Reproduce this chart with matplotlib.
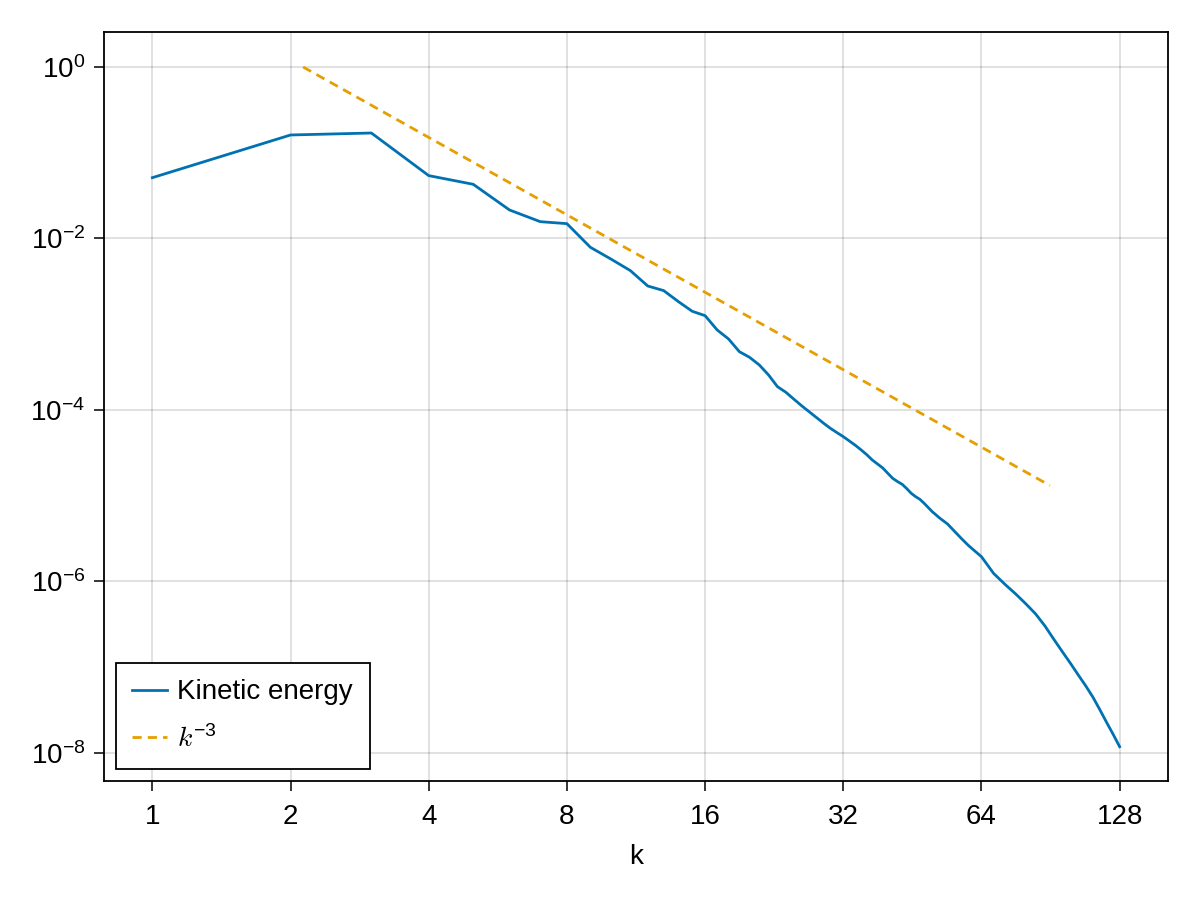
import numpy as np
import matplotlib
matplotlib.use("Agg")
import matplotlib.pyplot as plt
from matplotlib.ticker import FixedLocator, FixedFormatter, NullLocator

plt.rcParams['font.family'] = ['Liberation Sans', 'DejaVu Sans']
plt.rcParams['mathtext.fontset'] = 'custom'
plt.rcParams['mathtext.rm'] = 'Liberation Sans'
plt.rcParams['mathtext.it'] = 'Liberation Sans:italic'
plt.rcParams['mathtext.default'] = 'regular'

# ---- data ----
k = [1, 2, 3, 4, 5, 6, 7, 8, 9, 10, 11, 12, 13, 14, 15, 16, 17, 18, 19, 20,
     21, 22, 23, 24, 25, 26, 27, 28, 29, 30, 31, 32, 33, 34, 35, 36, 37, 38,
     39, 40, 41, 42, 43, 44, 45, 46, 47, 48, 50, 52, 54, 56, 58, 60, 62, 64,
     68, 72, 76, 80, 84, 88, 92, 96, 100, 104, 108, 112, 116, 120, 124, 128]
log10_energy = [-1.291, -0.793, -0.770, -1.267, -1.368, -1.668, -1.804, -1.827,
                -2.103, -2.243, -2.375, -2.554, -2.608, -2.737, -2.849, -2.900,
                -3.067, -3.172, -3.320, -3.386, -3.475, -3.592, -3.728, -3.794,
                -3.876, -3.953, -4.023, -4.090, -4.155, -4.214, -4.264, -4.311,
                -4.362, -4.412, -4.466, -4.521, -4.583, -4.630, -4.676, -4.738,
                -4.797, -4.835, -4.867, -4.917, -4.972, -5.011, -5.042, -5.088,
                -5.186, -5.264, -5.330, -5.419, -5.504, -5.582, -5.648, -5.711,
                -5.905, -6.033, -6.146, -6.262, -6.379, -6.519, -6.674, -6.818,
                -6.954, -7.090, -7.218, -7.351, -7.499, -7.647, -7.786, -7.927]
energy = [10 ** v for v in log10_energy]

k_ref = [2.13, 90.2]          # extent of the k^-3 reference line
ref_amplitude = 9.66          # E = A * k^-3

x_ticks = [1, 2, 4, 8, 16, 32, 64, 128]
x_ticklabels = ['1', '2', '4', '8', '16', '32', '64', '128']
y_ticks = [1e0, 1e-2, 1e-4, 1e-6, 1e-8]
y_ticklabels = ['$10^{0}$', '$10^{−2}$', '$10^{−4}$', '$10^{−6}$', '$10^{−8}$']

blue = '#0072B2'
orange = '#E69F00'

fig = plt.figure(figsize=(12, 9), dpi=100)
ax = fig.add_axes([104 / 1200, 1 - 781 / 900, (1168 - 104) / 1200, (781 - 32) / 900])

ax.plot(k, energy, color=blue, lw=2.0, label='Kinetic energy', solid_joinstyle='round')
kr = np.array(k_ref)
ax.plot(kr, ref_amplitude * kr ** -3.0, color=orange, lw=2.0,
        linestyle=(0, (3.3, 2.2)), label=r'$\mathit{k}^{-3}$')

ax.set_xscale('log', base=2)
ax.set_yscale('log')
ax.set_xlim(2 ** -0.35, 2 ** 7.35)
ax.set_ylim(10 ** -8.327, 10 ** 0.408)

ax.xaxis.set_major_locator(FixedLocator(x_ticks))
ax.xaxis.set_major_formatter(FixedFormatter(x_ticklabels))
ax.xaxis.set_minor_locator(NullLocator())
ax.yaxis.set_major_locator(FixedLocator(y_ticks))
ax.yaxis.set_major_formatter(FixedFormatter(y_ticklabels))
ax.yaxis.set_minor_locator(NullLocator())

ax.tick_params(axis='both', which='major', direction='out', length=7.5, width=1.1,
               labelsize=20, color='black')
ax.tick_params(axis='x', pad=9)
ax.tick_params(axis='y', pad=6)
ax.grid(True, which='major', color='black', alpha=0.12, lw=1.4)
ax.set_axisbelow(True)
for s in ax.spines.values():
    s.set_linewidth(1.3)
    s.set_color('black')

ax.set_xlabel('k', fontsize=20, labelpad=10)

leg = ax.legend(loc='lower left', bbox_to_anchor=(0.0, 0.0), fontsize=20,
                frameon=True, fancybox=False, edgecolor='black', framealpha=1,
                borderaxespad=0.42, handlelength=1.25, handletextpad=0.37,
                labelspacing=0.7, borderpad=0.6)
leg.get_frame().set_linewidth(1.3)
for t in leg.get_texts():
    if t.get_text().startswith('$'):
        t.set_math_fontfamily('cm')

fig.savefig('out.png', dpi=100)
